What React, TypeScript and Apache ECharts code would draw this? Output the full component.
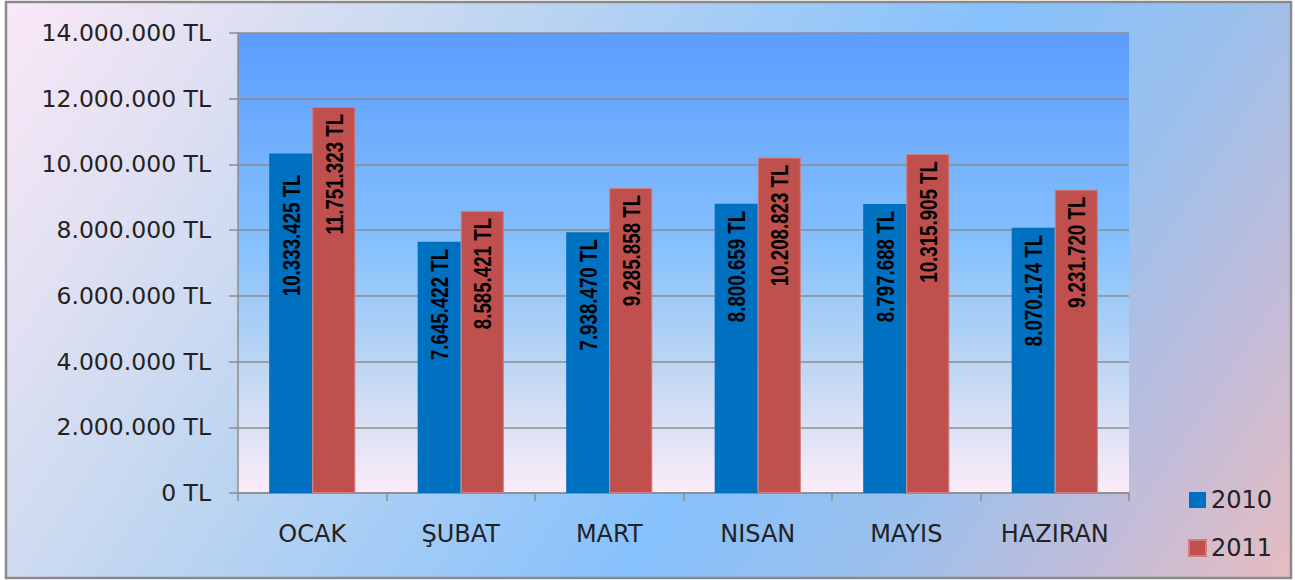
import React, { useEffect, useRef } from "react";
import * as echarts from "echarts";

const categories = ["OCAK", "ŞUBAT", "MART", "NISAN", "MAYIS", "HAZIRAN"];
const series2010 = [10333425, 7645422, 7938470, 8800659, 8797688, 8070174];
const series2011 = [11751323, 8585421, 9285858, 10208823, 10315905, 9231720];
const seriesNames = ["2010", "2011"];

function fmt(v: number): string {
  const s = Math.round(v).toString();
  return s.replace(/\B(?=(\d{3})+(?!\d))/g, ".") + " TL";
}

const axisFont = "'DejaVu Sans', Verdana, sans-serif";
const labelFont = "'Liberation Sans', Arial, sans-serif";
const CAT_GAP = 0.42;

function labelSeries(name: string, values: number[], side: number) {
  return {
    name: name + " label",
    type: "custom",
    z: 10,
    silent: true,
    data: values.map((v, i) => [i, v]),
    renderItem: (params: any, api: any) => {
      const idx = api.value(0);
      const v = api.value(1);
      const pt = api.coord([idx, v]);
      const band = api.size([1, 0])[0];
      const bw = (band * (1 - CAT_GAP)) / 2;
      const cx = pt[0] + (side * bw) / 2;
      const dist = side < 0 && idx === 0 ? 21 : 7;
      return {
        type: "text",
        x: cx + 1,
        y: pt[1] + dist,
        rotation: Math.PI / 2,
        scaleX: 0.78,
        style: {
          text: fmt(v),
          fill: "#000",
          fontFamily: labelFont,
          fontWeight: "bold",
          fontSize: 24,
          align: "right",
          verticalAlign: "middle",
        },
      };
    },
  };
}

export default function App() {
  const ref = useRef<HTMLDivElement>(null);
  useEffect(() => {
    if (!ref.current) return;
    const chart = echarts.init(ref.current, undefined, { renderer: "svg" });
    const option: any = {
      animation: false,
      graphic: [
        {
          type: "rect",
          z: -10,
          silent: true,
          shape: { x: 6, y: 2, width: 1285, height: 576 },
          style: {
            fill: {
              type: "linear",
              global: true,
              x: 111,
              y: -168,
              x2: 1281,
              y2: 599,
              colorStops: [
                { offset: 0, color: "#fbe8f7" },
                { offset: 0.15, color: "#dfe0f2" },
                { offset: 0.3, color: "#c0d6f0" },
                { offset: 0.6, color: "#86c1fc" },
                { offset: 0.75, color: "#9cc0ec" },
                { offset: 0.88, color: "#c3bcd8" },
                { offset: 1, color: "#e8bcc0" },
              ],
            },
            stroke: "#8a8a8a",
            lineWidth: 2.5,
          },
        },
      ],
      grid: {
        left: 238,
        right: 166,
        top: 33,
        bottom: 87,
        show: true,
        borderWidth: 0,
        backgroundColor: {
          type: "linear",
          x: 0,
          y: 0,
          x2: 0,
          y2: 1,
          colorStops: [
            { offset: 0, color: "#5b9cfe" },
            { offset: 0.45, color: "#84c0fd" },
            { offset: 0.72, color: "#bcd6f3" },
            { offset: 1, color: "#fdecf9" },
          ],
        },
      },
      legend: {
        orient: "vertical",
        left: 1183,
        top: 483,
        itemWidth: 17,
        itemHeight: 16,
        itemGap: 24,
        icon: "rect",
        data: seriesNames,
        textStyle: { fontFamily: axisFont, fontSize: 24, color: "#222" },
      },
      xAxis: {
        type: "category",
        data: categories,
        axisLine: { show: true, lineStyle: { color: "#8c8c8c", width: 1.5 } },
        axisTick: { show: true, length: 8, lineStyle: { color: "#8c8c8c", width: 1.5 } },
        axisLabel: { margin: 29, fontFamily: axisFont, fontSize: 24, color: "#222" },
      },
      yAxis: {
        type: "value",
        min: 0,
        max: 14000000,
        interval: 2000000,
        axisLine: { show: true, lineStyle: { color: "#8c8c8c", width: 1.5 } },
        axisTick: { show: true, length: 9, lineStyle: { color: "#8c8c8c", width: 1.5 } },
        splitLine: { show: true, lineStyle: { color: "#8c8c8c", width: 1.5 } },
        axisLabel: {
          margin: 27,
          fontFamily: axisFont,
          fontSize: 23.5,
          color: "#222",
          formatter: (v: number) => fmt(v),
        },
      },
      series: [
        {
          name: seriesNames[0],
          type: "bar",
          data: series2010,
          barGap: "0%",
          barCategoryGap: CAT_GAP * 100 + "%",
          itemStyle: { color: "#0070c0" },
        },
        {
          name: seriesNames[1],
          type: "bar",
          data: series2011,
          barGap: "0%",
          barCategoryGap: CAT_GAP * 100 + "%",
          itemStyle: { color: "#c0504d", borderColor: "#d27c79", borderWidth: 1 },
        },
        labelSeries(seriesNames[0], series2010, -1),
        labelSeries(seriesNames[1], series2011, 1),
      ],
    };
    chart.setOption(option);
    return () => chart.dispose();
  }, []);
  return (
    <div
      ref={ref}
      style={{ position: "absolute", left: 0, top: 0, width: 1295, height: 580 }}
    />
  );
}
